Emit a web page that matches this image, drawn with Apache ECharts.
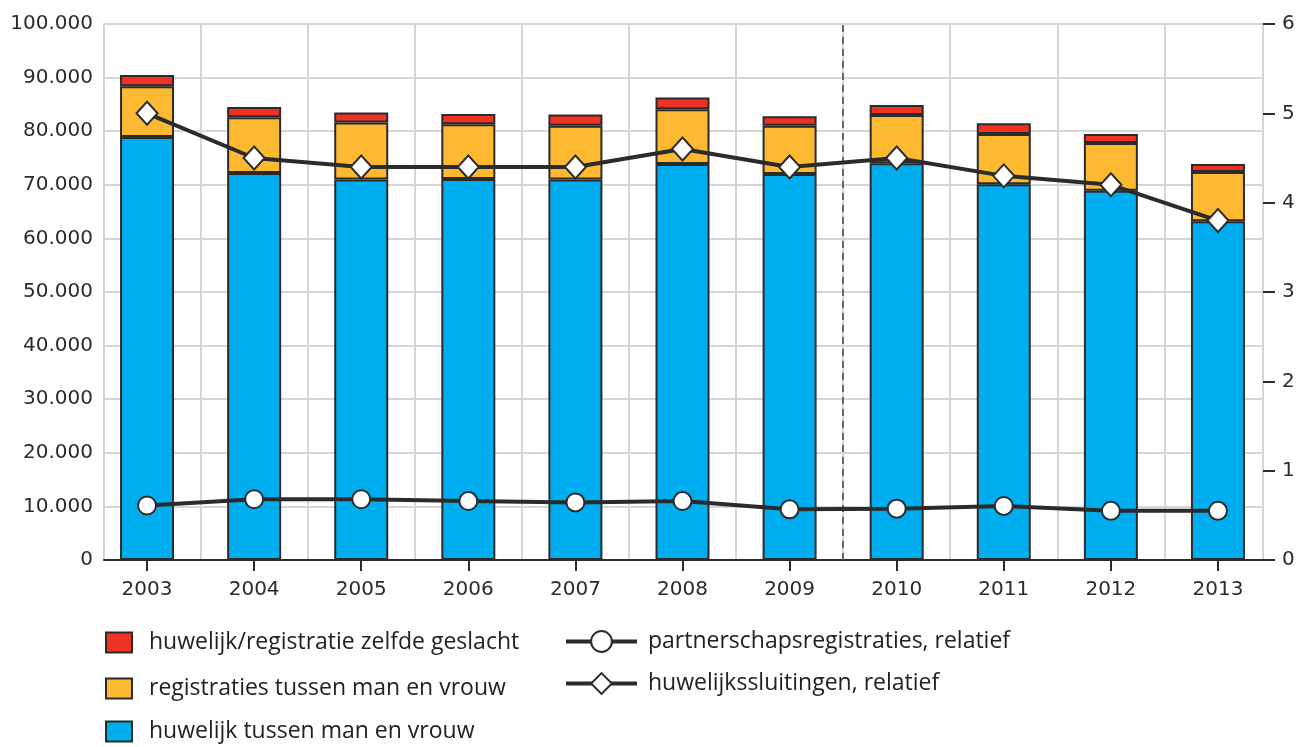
<!DOCTYPE html>
<html>
<head>
<meta charset="utf-8">
<script src="https://cdn.jsdelivr.net/npm/echarts@6/dist/echarts.min.js"></script>
<style>
  html, body { margin: 0; padding: 0; background: #fff; }
  #chart { width: 1298px; height: 747px; }
</style>
</head>
<body>
<div id="chart"></div>
<script>
const years = ['2003', '2004', '2005', '2006', '2007', '2008', '2009', '2010', '2011', '2012', '2013']

// absolute aantallen (gestapeld)
const huwelijkManVrouw = [78900, 72200, 71000, 71100, 71000, 73900, 72000, 74000, 70100, 68900, 63200]
const registratiesManVrouw = [9500, 10400, 10600, 10200, 10000, 10200, 9000, 9000, 9400, 8900, 9200]
const zelfdeGeslacht = [2100, 1900, 1900, 1900, 2100, 2200, 1800, 1900, 2000, 1700, 1500]

// relatief (rechteras)
const partnerschapRel = [0.61, 0.68, 0.68, 0.66, 0.645, 0.66, 0.567, 0.575, 0.605, 0.55, 0.55]
const huwelijkRel = [5.0, 4.5, 4.4, 4.4, 4.4, 4.6, 4.4, 4.5, 4.3, 4.2, 3.8]

const leftMax = 100000
const rightMax = 6

const dark = '#2b2b2b'
const gridGrey = '#d6d6d6'
const axisFont = { fontFamily: 'DejaVu Sans', fontSize: 20, color: '#2b2b2b' }
const legendFont = { fontFamily: 'Open Sans', fontSize: 23, color: '#222' }

// one legend per row so nothing wraps
function barLegend(name, top) {
  return {
    left: 105, top: top, padding: 0,
    itemWidth: 26, itemHeight: 20, icon: 'rect',
    textStyle: { ...legendFont, padding: [0, 0, 0, 12] },
    data: [name]
  }
}
function lineLegend(name, top) {
  return {
    left: 564, top: top, padding: 0,
    itemWidth: 71, itemHeight: 26,
    lineStyle: { width: 4, color: dark },
    textStyle: { ...legendFont, padding: [0, 0, 0, 6] },
    data: [name]
  }
}

let myChart = echarts.init(document.getElementById('chart'))

let option = {
  animation: false,
  grid: [
    { left: 93.5, right: 26.5, top: 24, bottom: 187 },
    { left: 104, right: 35, top: 24, bottom: 187 }
  ],
  xAxis: [
    {
      type: 'category',
      gridIndex: 0,
      data: years,
      axisLine: { show: false },
      axisTick: { show: true, alignWithLabel: true, length: 11, lineStyle: { color: dark, width: 2 } },
      axisLabel: { ...axisFont, margin: 20 },
      splitLine: { show: false }
    },
    {
      // hulpas voor de verticale rasterlijnen tussen de jaren
      type: 'value',
      gridIndex: 0,
      min: 0,
      max: 11,
      interval: 1,
      axisLine: { show: false },
      axisTick: { show: false },
      axisLabel: { show: false },
      splitLine: { show: true, showMinLine: false, showMaxLine: false, lineStyle: { color: gridGrey, width: 2 } }
    },
    {
      type: 'value',
      gridIndex: 1,
      min: 0,
      max: 1,
      axisLine: { show: true, lineStyle: { color: dark, width: 2 } },
      axisTick: { show: false },
      axisLabel: { show: false },
      splitLine: { show: false }
    }
  ],
  yAxis: [
    { type: 'value', gridIndex: 0, min: 0, max: leftMax, interval: 10000, show: false },
    { type: 'value', gridIndex: 0, min: 0, max: rightMax, interval: 1, show: false },
    {
      type: 'value',
      gridIndex: 1,
      min: 0,
      max: leftMax,
      interval: 10000,
      axisLine: { show: true, lineStyle: { color: gridGrey, width: 2 } },
      axisTick: { show: false },
      axisLabel: {
        ...axisFont,
        margin: 11,
        formatter: v => v === 0 ? '0' : (v / 1000).toFixed(0) + '.000'
      },
      splitLine: { show: true, lineStyle: { color: gridGrey, width: 2 } }
    },
    {
      type: 'value',
      gridIndex: 1,
      position: 'right',
      min: 0,
      max: rightMax,
      interval: 1,
      axisLine: { show: true, lineStyle: { color: gridGrey, width: 2 } },
      axisTick: { show: true, length: 12, lineStyle: { color: dark, width: 2 } },
      axisLabel: { ...axisFont, margin: 19 },
      splitLine: { show: false }
    }
  ],
  legend: [
    barLegend('huwelijk/registratie zelfde geslacht', 631),
    barLegend('registraties tussen man en vrouw', 677),
    barLegend('huwelijk tussen man en vrouw', 720),
    lineLegend('partnerschapsregistraties, relatief', 630),
    lineLegend('huwelijkssluitingen, relatief', 672)
  ],
  series: [
    {
      name: 'huwelijk tussen man en vrouw',
      type: 'bar',
      stack: 'totaal',
      xAxisIndex: 0,
      yAxisIndex: 0,
      barWidth: 54,
      itemStyle: { color: '#00adee', borderColor: dark, borderWidth: 2 },
      emphasis: { disabled: true },
      data: huwelijkManVrouw
    },
    {
      name: 'registraties tussen man en vrouw',
      type: 'bar',
      stack: 'totaal',
      xAxisIndex: 0,
      yAxisIndex: 0,
      barWidth: 54,
      itemStyle: { color: '#fdb931', borderColor: dark, borderWidth: 2 },
      emphasis: { disabled: true },
      data: registratiesManVrouw
    },
    {
      name: 'huwelijk/registratie zelfde geslacht',
      type: 'bar',
      stack: 'totaal',
      xAxisIndex: 0,
      yAxisIndex: 0,
      barWidth: 54,
      itemStyle: { color: '#ee3224', borderColor: dark, borderWidth: 2 },
      emphasis: { disabled: true },
      data: zelfdeGeslacht
    },
    {
      name: 'partnerschapsregistraties, relatief',
      type: 'line',
      xAxisIndex: 0,
      yAxisIndex: 1,
      symbol: 'circle',
      symbolSize: 18,
      z: 5,
      lineStyle: { color: dark, width: 4 },
      itemStyle: { color: '#fff', borderColor: dark, borderWidth: 2 },
      emphasis: { disabled: true },
      data: partnerschapRel
    },
    {
      name: 'huwelijkssluitingen, relatief',
      type: 'line',
      xAxisIndex: 0,
      yAxisIndex: 1,
      symbol: 'diamond',
      symbolSize: [21, 23],
      z: 5,
      lineStyle: { color: dark, width: 4 },
      itemStyle: { color: '#fff', borderColor: dark, borderWidth: 2 },
      emphasis: { disabled: true },
      data: huwelijkRel
    },
    {
      // gestippelde scheidingslijn tussen 2009 en 2010
      type: 'line',
      xAxisIndex: 1,
      yAxisIndex: 0,
      data: [],
      markLine: {
        silent: true,
        symbol: 'none',
        label: { show: false },
        lineStyle: { type: [7, 5], color: '#666', width: 2 },
        data: [{ xAxis: 7 }]
      }
    }
  ]
}

myChart.setOption(option)
</script>
</body>
</html>
